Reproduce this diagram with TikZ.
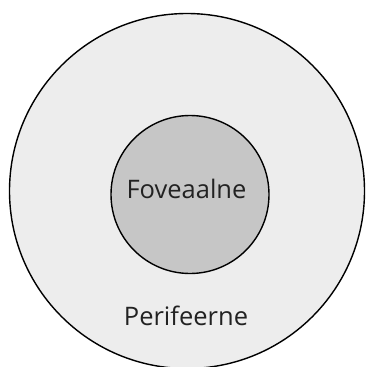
\documentclass[tikz,border=0pt]{standalone}
\usepackage{fontspec}
\setmainfont{Open Sans}
\definecolor{outerfill}{HTML}{EDEDED}
\definecolor{innerfill}{HTML}{C6C6C6}
\definecolor{labeltext}{HTML}{222222}
\begin{document}
\begin{tikzpicture}[x=1pt,y=-1pt,
  zone/.style={circle,draw=black,line width=1.4pt,inner sep=0pt},
  zonelabel/.style={font=\fontsize{25.5}{29}\selectfont,text=labeltext}]
\useasboundingbox (0,0) rectangle (365,367);
\begin{scope}
  \clip (0,0) rectangle (365,367);
  \node[zone,fill=outerfill,minimum size=355pt] (outer) at (187,191) {};
  \node[zone,fill=innerfill,minimum size=158pt] (inner) at (190,194.5) {};
\end{scope}
\node[zonelabel] (fov) at (186.5,189) {Foveaalne};
\node[zonelabel] (per) at (186,316) {Perifeerne};
\end{tikzpicture}
\end{document}
